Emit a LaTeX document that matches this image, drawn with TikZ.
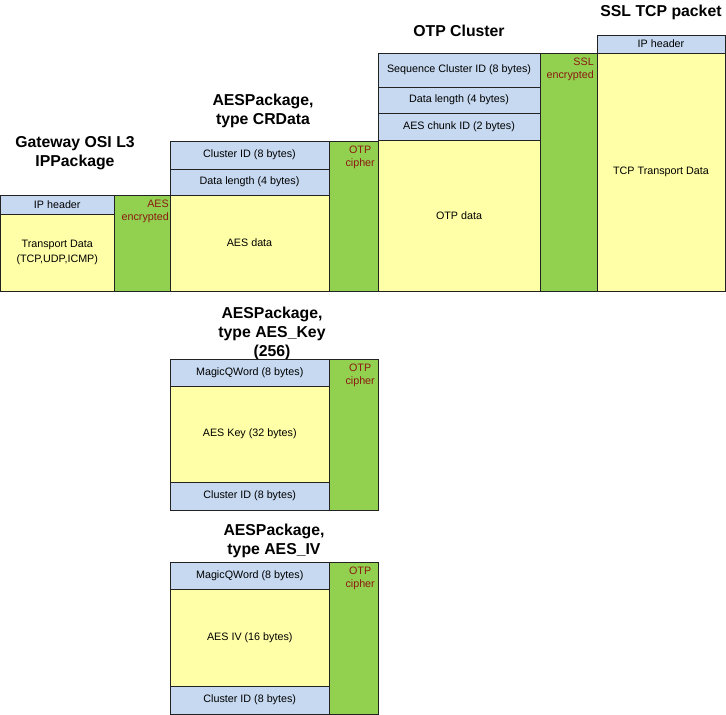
\documentclass[tikz,border=0pt]{standalone}
\usepackage{fontspec}
\setmainfont{Liberation Sans}
\definecolor{hdrblue}{HTML}{C6D9F0}
\definecolor{datayel}{HTML}{FFFFA8}
\definecolor{encgreen}{HTML}{92D050}
\definecolor{enctext}{HTML}{8B1A10}
\definecolor{edge}{HTML}{222222}
\tikzset{
  blk/.style={draw=edge, line width=0.9pt},
  lbl/.style={font=\fontsize{10.75}{14.5}\selectfont, text=black, align=center, inner sep=0pt},
  enclbl/.style={font=\fontsize{10.75}{12.8}\selectfont, text=enctext, inner sep=0pt, anchor=north east},
  ttl/.style={font=\fontsize{15.8}{19}\selectfont\bfseries, align=center, inner sep=0pt},
}
% \blkbox{name}{x1}{y1}{x2}{y2}{fill}{text}
\newcommand{\blkbox}[7]{%
  \fill[#6] (#2,#3) rectangle (#4,#5);
  \draw[blk] (#2,#3) rectangle (#4,#5);
  \node[lbl] (#1) at ({(#2+#4)/2},{(#3+#5)/2}) {#7};
}
\newcommand{\encbox}[8]{%
  \fill[encgreen] (#2,#3) rectangle (#4,#5);
  \draw[blk] (#2,#3) rectangle (#4,#5);
  \node[enclbl, align=#6] (#1) at (#4-#7,#3+4.5) {#8};
}
\begin{document}
\begin{tikzpicture}[x=1pt,y=-1pt]
\useasboundingbox (0,0) rectangle (726,715);

% Gateway OSI L3 IPPackage
\node[ttl] (t1) at (75,153.5) {Gateway OSI L3\\IPPackage};
\blkbox{g1}{0.5}{195}{114}{214}{hdrblue}{IP header}
\blkbox{g2}{0.5}{214}{114}{291}{datayel}{Transport Data\\(TCP,UDP,ICMP)}
\encbox{g3}{114}{195}{170}{291}{right}{1}{AES\\encrypted}

% AESPackage CRData
\node[ttl] (t2) at (263,110.5) {AESPackage,\\type CRData};
\blkbox{c1}{170}{141}{329}{169}{hdrblue}{Cluster ID (8 bytes)}
\blkbox{c2}{170}{169}{329}{195}{hdrblue}{Data length (4 bytes)}
\blkbox{c3}{170}{195}{329}{291}{datayel}{AES data}
\encbox{c4}{329}{141}{378}{291}{center}{3}{OTP\\cipher}

% OTP Cluster
\node[ttl] (t3) at (459,30.5) {OTP Cluster};
\blkbox{o1}{378}{53}{540}{87}{hdrblue}{Sequence Cluster ID (8 bytes)}
\blkbox{o2}{378}{87}{540}{113}{hdrblue}{Data length (4 bytes)}
\blkbox{o3}{378}{113}{540}{140}{hdrblue}{AES chunk ID (2 bytes)}
\blkbox{o4}{378}{140}{540}{291}{datayel}{OTP data}
\encbox{o5}{540}{53}{597}{291}{right}{3}{SSL\\encrypted}

% SSL TCP packet
\node[ttl] (t4) at (661,12) {SSL TCP packet};
\blkbox{s1}{597}{35}{725}{53}{hdrblue}{IP header}
\blkbox{s2}{597}{53}{725}{291}{datayel}{TCP Transport Data}

% AESPackage AES_Key
\node[ttl] (t5) at (272,333) {AESPackage,\\type AES\_Key\\(256)};
\blkbox{k1}{170.5}{359}{329}{386}{hdrblue}{MagicQWord (8 bytes)}
\blkbox{k2}{170.5}{386}{329}{482}{datayel}{AES Key (32 bytes)}
\blkbox{k3}{170.5}{482}{329}{510}{hdrblue}{Cluster ID (8 bytes)}
\encbox{k4}{329}{359}{378}{510}{center}{3}{OTP\\cipher}

% AESPackage AES_IV
\node[ttl] (t6) at (274,541) {AESPackage,\\type AES\_IV};
\blkbox{v1}{170.5}{562}{329}{589}{hdrblue}{MagicQWord (8 bytes)}
\blkbox{v2}{170.5}{589}{329}{686}{datayel}{AES IV (16 bytes)}
\blkbox{v3}{170.5}{686}{329}{714}{hdrblue}{Cluster ID (8 bytes)}
\encbox{v4}{329}{562}{378}{714}{center}{3}{OTP\\cipher}
\end{tikzpicture}
\end{document}
